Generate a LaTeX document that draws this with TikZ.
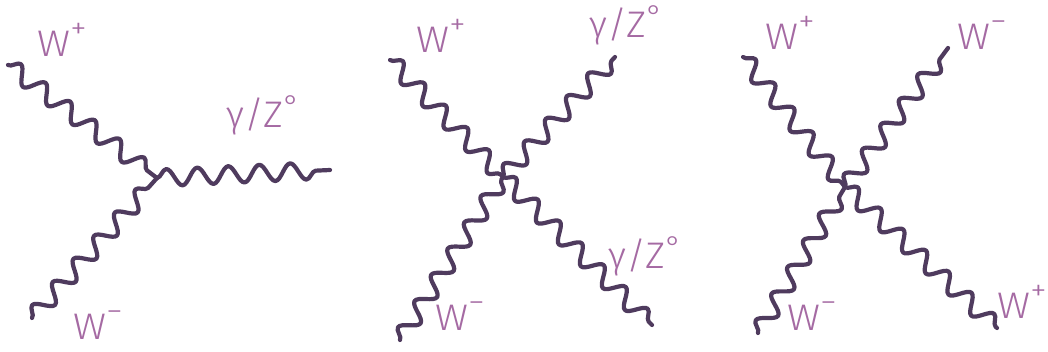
\documentclass[tikz,border=0pt]{standalone}
\usepackage{fontspec}
\setmainfont{Fira Sans Light}
\usetikzlibrary{decorations.pathmorphing}
\definecolor{bosonc}{HTML}{4F3B5E}
\definecolor{labelc}{HTML}{A56AA3}
\newcommand{\supp}[1]{\raisebox{0.5em}{\fontsize{30}{30}\selectfont #1}}
\newcommand{\degg}{\raisebox{0.3em}{\fontsize{30}{30}\selectfont °}}
\begin{document}
\begin{tikzpicture}[x=1pt,y=-1pt,
  boson/.style={draw=bosonc, line width=4.2pt, line cap=round, line join=round,
    decorate, decoration={snake, segment length=31pt, amplitude=8.5pt}},
  lab/.style={text=labelc, font=\fontsize{37}{37}\selectfont, inner sep=0pt, xscale=1.1},
  glab/.style={lab, xscale=0.95}]
\path[use as bounding box, fill=white] (0,0) rectangle (1048,352);
% Diagram 1
\coordinate (v1) at (157,178);
\coordinate (a1) at (8,65);
\coordinate (b1) at (32,318);
\coordinate (c1) at (330,170);
\draw[boson] (a1) -- (v1);
\draw[boson] (b1) -- (v1);
\draw[boson] (v1) -- (c1);
\node[lab] (la1) at (62,40) {W\supp{+}};
\node[glab] (lc1) at (263,115) {γ/Z\degg};
\node[lab] (lb1) at (98,325) {W\supp{−}};
% Diagram 2
\coordinate (v2) at (503,177);
\coordinate (a2) at (390,60);
\coordinate (b2) at (400,340);
\coordinate (c2) at (615,57);
\coordinate (d2) at (652,325);
\draw[boson] (a2) -- (v2);
\draw[boson] (b2) -- (v2);
\draw[boson] (v2) -- (c2);
\draw[boson] (v2) -- (d2);
\node[lab] (la2) at (441,36) {W\supp{+}};
\node[glab] (lc2) at (626,25) {γ/Z\degg};
\node[glab] (ld2) at (645,256) {γ/Z\degg};
\node[lab] (lb2) at (460,316) {W\supp{−}};
% Diagram 3
\coordinate (v3) at (845,187);
\coordinate (a3) at (743,57);
\coordinate (b3) at (758,333);
\coordinate (c3) at (948,48);
\coordinate (d3) at (997,328);
\draw[boson] (a3) -- (v3);
\draw[boson] (b3) -- (v3);
\draw[boson] (v3) -- (c3);
\draw[boson] (v3) -- (d3);
\node[lab] (la3) at (790,33) {W\supp{+}};
\node[lab] (lc3) at (982,35) {W\supp{−}};
\node[lab] (lb3) at (812,316) {W\supp{−}};
\node[lab] (ld3) at (1022,302) {W\supp{+}};
\end{tikzpicture}
\end{document}
